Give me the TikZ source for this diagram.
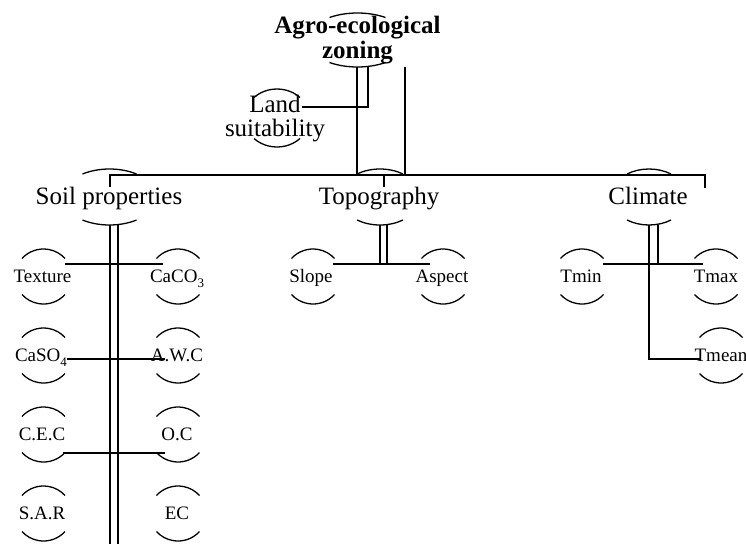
\documentclass[tikz,border=0pt]{standalone}
\usepackage{fontspec}
\setmainfont{Liberation Serif}
% cx cy halfwidth halfheight sag : top and bottom elliptical arcs
\newcommand\capsarcs[5]{%
  \pgfmathsetmacro\capphi{asin((#4-#5)/#4)}%
  \pgfmathsetmacro\capa{#3/cos(\capphi)}%
  \pgfmathsetmacro\capd{90-\capphi}%
  \draw[arcline] (#1,#2) ++({-#3},{-(#4-#5)}) arc[start angle={270-\capd}, end angle={270+\capd}, x radius=\capa, y radius=#4];
  \draw[arcline] (#1,#2) ++({#3},{#4-#5}) arc[start angle={90-\capd}, end angle={90+\capd}, x radius=\capa, y radius=#4];}
\newcommand\lowsub[1]{\raisebox{-0.3em}{\fontsize{13}{13}\selectfont #1}}
\tikzset{
  big/.style={font=\fontsize{25}{24}\selectfont, inner sep=0pt, anchor=base},
  leaf/.style={font=\fontsize{19}{19}\selectfont, inner sep=0pt, anchor=base},
  arcline/.style={line width=1.3pt},
  link/.style={line width=2pt},
  thinlink/.style={line width=1.2pt},
}
\begin{document}
\begin{tikzpicture}[x=1pt,y=-1pt]
\useasboundingbox (0,0) rectangle (746,544);
% ---------- text nodes
\node[font=\fontsize{25}{25}\selectfont\bfseries, inner sep=0pt, align=center] (aez) at (357.5,40) {Agro-ecological\\zoning};
\node[font=\fontsize{25}{24}\selectfont, inner sep=0pt, align=center] (land) at (275,119) {Land\\suitability};
\node[big] (soil) at (109,204) {Soil properties};
\node[big] (topo) at (379,204) {Topography};
\node[big] (clim) at (648,204) {Climate};
\node[leaf] (texture) at (42.5,282) {Texture};
\node[leaf] (caco) at (177,282) {CaCO\lowsub{3}};
\node[leaf] (caso) at (41,361) {CaSO\lowsub{4}};
\node[leaf] (awc) at (177,361) {A.W.C};
\node[leaf] (cec) at (42,440) {C.E.C};
\node[leaf] (oc) at (177,440) {O.C};
\node[leaf] (sar) at (42,519) {S.A.R};
\node[leaf] (ec) at (177,519) {EC};
\node[leaf] (slope) at (311,282) {Slope};
\node[leaf] (aspect) at (442,282) {Aspect};
\node[leaf] (tmin) at (581,282) {Tmin};
\node[leaf] (tmax) at (716,282) {Tmax};
\node[leaf] (tmean) at (721,361) {Tmean};
% ---------- arcs around nodes
\capsarcs{357.5}{40}{28}{27}{4.5}
\capsarcs{277}{118}{23}{29}{8.5}
\capsarcs{109.5}{197}{27}{28}{5}
\capsarcs{380}{197}{23}{28}{5}
\capsarcs{649}{197}{22}{28}{5}
\foreach \cx/\by in {43.5/282,178/282,43.5/361,178/361,43.5/440,178/440,43.5/519,178/519,313/282,443/282,582/282,716/282,721/361}{
  \capsarcs{\cx}{\by-5.5}{21.5}{27.5}{9.5}
}
% ---------- named junction points
\coordinate (aezb1) at (357,67);
\coordinate (aezb2) at (368,66);
\coordinate (aezb3) at (405,67);
\coordinate (landj) at (368,107);
\coordinate (lande) at (302,107);
\coordinate (busL) at (110,175);
\coordinate (busR) at (705,175);
\coordinate (busM) at (384,175);
% ---------- connectors
\draw[link] (aezb1) -- (aezb1 |- busL);
\draw[link] (aezb2) -- (landj) -- (lande);
\draw[thinlink] (aezb3) -- (aezb3 |- busL);
\draw[link] (110,187) -- (busL) -- (busR) -- (705,188);
\draw[link] (busM) -- (384,187);
% soil
\draw[link] (110,225) -- (110,544);
\draw[link] (118,225) -- (118,544);
\draw[link] (65,264) -- (163,264);
\draw[link] (67,359) -- (165,359);
\draw[link] (63,453) -- (165,453);
% topography
\draw[link] (380,225) -- (380,264);
\draw[link] (387,225) -- (387,264);
\draw[link] (333,264) -- (430,264);
% climate
\draw[link] (658,225) -- (658,264);
\draw[link] (649,225) -- (649,359) -- (700,359);
\draw[link] (603,264) -- (703,264);
\end{tikzpicture}
\end{document}
